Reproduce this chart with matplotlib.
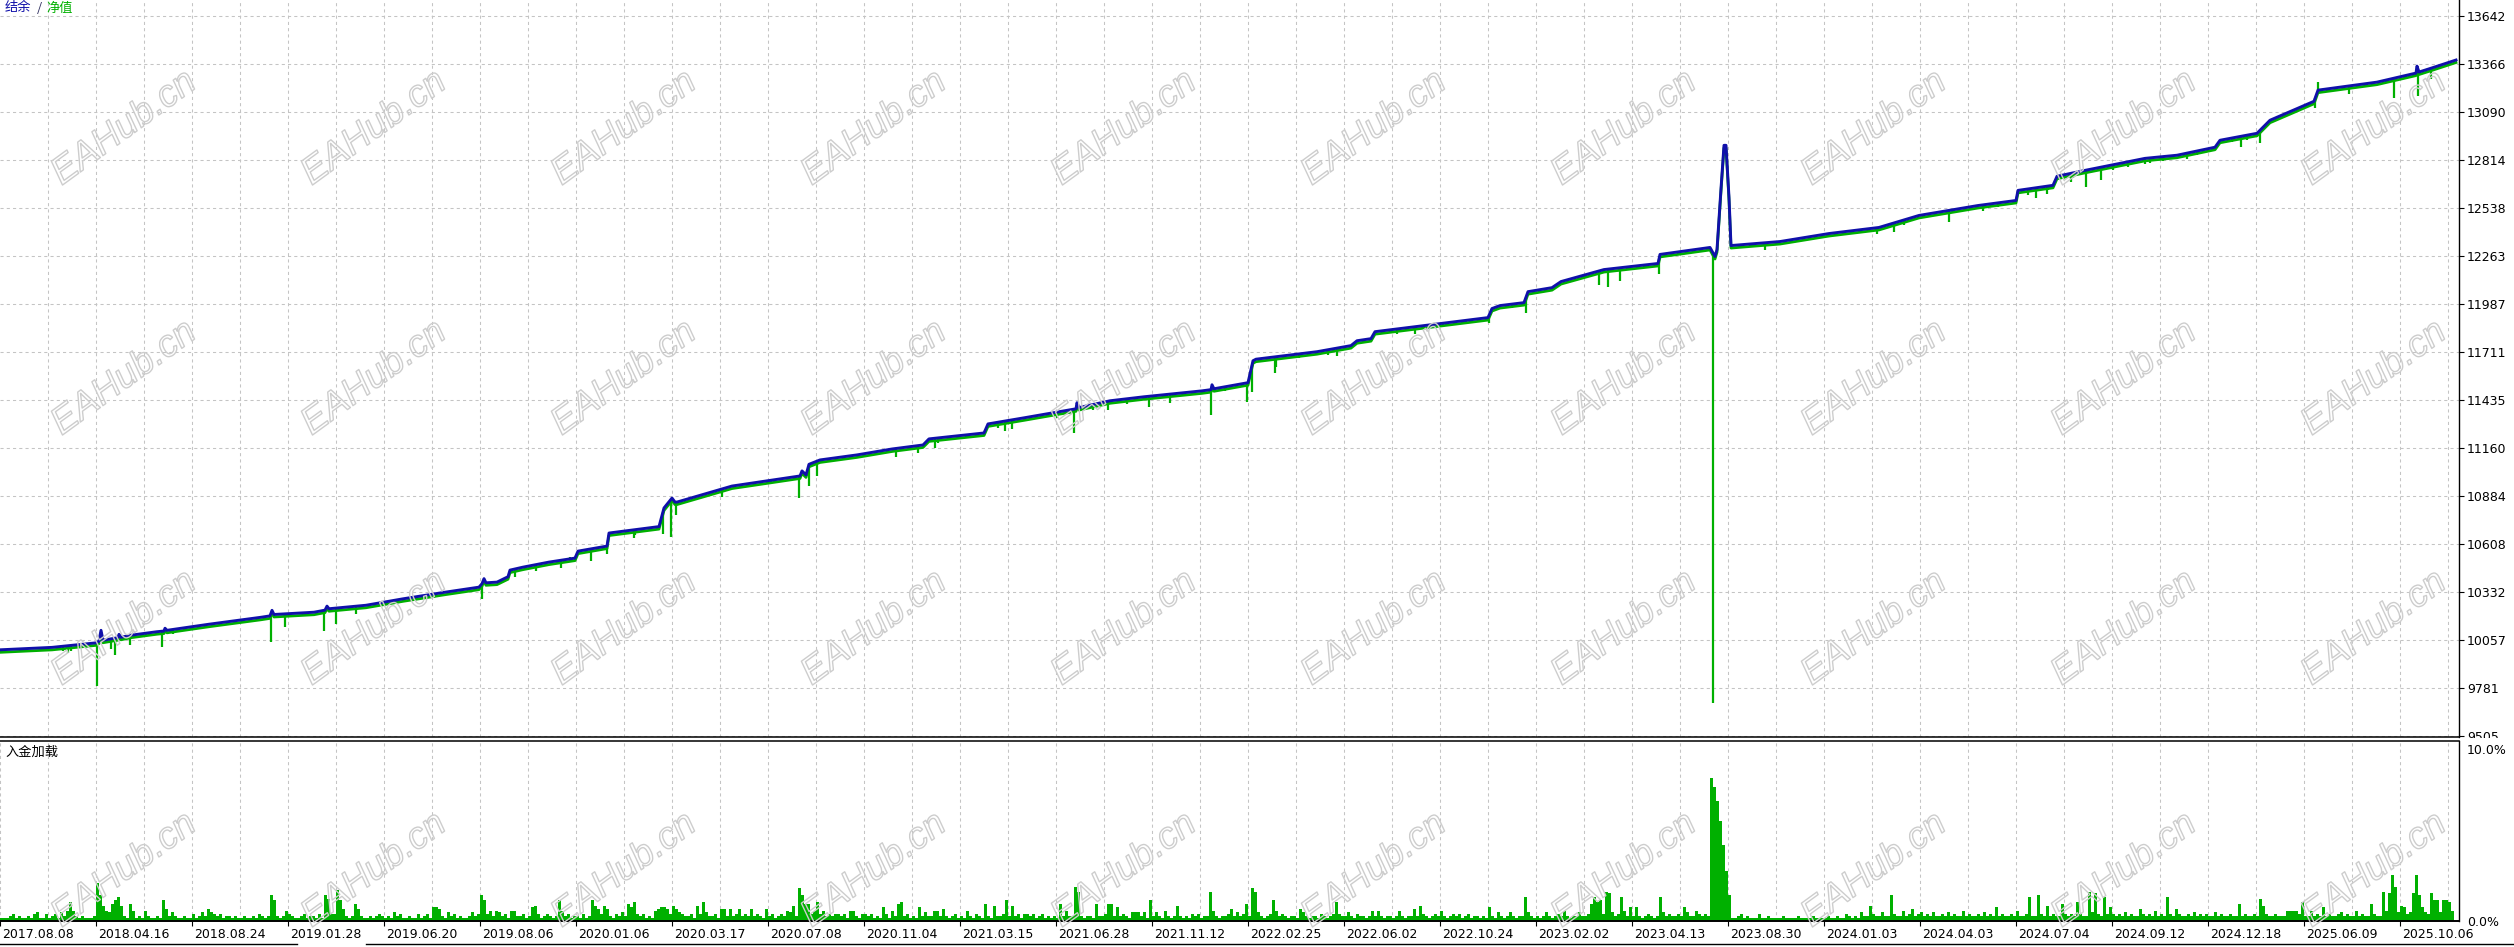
import numpy as np
import matplotlib
matplotlib.use('Agg')
import matplotlib.pyplot as plt
from matplotlib import patheffects, transforms
from matplotlib.lines import Line2D
from matplotlib.patches import Rectangle

# balance curve (x = deal position along the axis, v = account balance)
bal_x = [0, 52, 96, 99, 101, 103, 118, 119, 121, 131, 157, 164, 165, 167, 209, 261, 270, 272, 274,
         314, 325, 327, 329, 366, 403, 445, 479, 482, 484, 486, 497, 508, 510, 523, 549, 575, 578,
         607, 609, 659, 664, 672, 675, 677, 732, 800, 802, 806, 809, 820, 857, 892, 923, 929, 984,
         988, 1024, 1053, 1076, 1077, 1079, 1110, 1144, 1202, 1211, 1212, 1214, 1248, 1253, 1256,
         1317, 1351, 1357, 1371, 1375, 1431, 1488, 1492, 1500, 1524, 1528, 1552, 1561, 1604, 1658,
         1660, 1710, 1715, 1717, 1721, 1724, 1726, 1729, 1731, 1780, 1829, 1879, 1919, 1978, 2016,
         2018, 2053, 2057, 2085, 2145, 2177, 2215, 2220, 2257, 2270, 2314, 2318, 2377, 2416, 2417,
         2419, 2431, 2456]
bal_v = [10000, 10014, 10040, 10050, 10112, 10055, 10070, 10089, 10072, 10084, 10104, 10108, 10124,
         10112, 10147, 10187, 10195, 10227, 10203, 10216, 10228, 10251, 10236, 10256, 10293, 10331,
         10360, 10380, 10409, 10385, 10389, 10420, 10458, 10475, 10504, 10527, 10567, 10596, 10671,
         10708, 10815, 10872, 10849, 10849, 10941, 10999, 11028, 11005, 11066, 11091, 11120, 11154,
         11177, 11212, 11246, 11298, 11333, 11362, 11385, 11420, 11392, 11431, 11454, 11488, 11495,
         11523, 11500, 11535, 11661, 11670, 11713, 11748, 11776, 11788, 11828, 11868, 11909, 11961,
         11978, 11995, 12058, 12081, 12116, 12185, 12220, 12272, 12312, 12260, 12300, 12650, 12899,
         12899, 12600, 12323, 12346, 12392, 12427, 12496, 12553, 12582, 12640, 12669, 12721, 12755,
         12824, 12842, 12888, 12928, 12968, 13043, 13152, 13216, 13262, 13314, 13354, 13320, 13342,
         13389]

# equity excursions away from the balance line (large ones)
eq_x = [68, 71, 97, 111, 115, 130, 162, 173, 271, 285, 324, 336, 356, 434, 482, 515, 536, 561, 591,
        607, 634, 663, 671, 676, 722, 799, 809, 817, 896, 918, 935, 1005, 1012, 1057, 1074, 1108,
        1149, 1170, 1211, 1247, 1252, 1275, 1337, 1415, 1489, 1526, 1599, 1608, 1620, 1659, 1713,
        1765, 1877, 1894, 1949, 1983, 2036, 2047, 2071, 2086, 2101, 2145, 2150, 2187, 2241, 2260,
        2315, 2318, 2349, 2394, 2418, 2431]
eq_v = [9982, 9995, 9792, 10005, 9970, 10028, 10016, 10090, 10045, 10130, 10108, 10146, 10206,
        10300, 10294, 10420, 10453, 10470, 10510, 10551, 10643, 10666, 10651, 10775, 10880, 10872,
        10940, 11000, 11110, 11130, 11160, 11255, 11270, 11330, 11245, 11380, 11395, 11420, 11348,
        11422, 11480, 11590, 11688, 11815, 11876, 11935, 12095, 12083, 12120, 12158, 9692, 12300,
        12390, 12400, 12460, 12520, 12594, 12620, 12686, 12657, 12697, 12790, 12800, 12820, 12890,
        12911, 13112, 13262, 13193, 13170, 13181, 13279]

# small equity dips that make the green fringe under the balance line
fringe_x = [24, 42, 63, 84, 120, 146, 191, 214, 243, 301, 316, 345, 397, 426, 450, 494, 518, 539,
            570, 596, 635, 709, 748, 771, 852, 875, 909, 938, 966, 998, 1041, 1093, 1127, 1167,
            1190, 1225, 1276, 1299, 1328, 1397, 1443, 1466, 1512, 1540, 1569, 1584, 1627, 1644,
            1678, 1750, 1794, 1824, 1849, 1904, 1924, 1959, 1998, 2028, 2048, 2073, 2113, 2128,
            2163, 2197, 2232, 2247, 2277, 2292, 2327, 2367, 2386, 2406, 2441]
fringe_v = [9988, 9995, 9992, 10011, 10068, 10080, 10117, 10146, 10174, 10204, 10213, 10242,
            10281, 10319, 10338, 10387, 10465, 10493, 10535, 10579, 10657, 10901, 10947, 10964,
            11108, 11131, 11148, 11188, 11223, 11275, 11338, 11378, 11413, 11453, 11476, 11488,
            11626, 11677, 11694, 11815, 11855, 11878, 11964, 12050, 12125, 12135, 12183, 12200,
            12269, 12315, 12355, 12384, 12401, 12441, 12481, 12516, 12545, 12614, 12642, 12711,
            12757, 12774, 12809, 12843, 12918, 12929, 13062, 13102, 13205, 13234, 13257, 13280,
            13343]

# deposit load, one string per 96-px label slot, each char = load in 0.1 % (base 36)
load_rows = [
    "22234232232452242342536b63232223",
    "mf965ace932a6232632232c735322322",
    "42353754342332322322324323fc3236",
    "432234233242fd44ic7323a732232343",
    "23253422322423428873253423223534",
    "fc463653426633423894234323c63423",
    "32423c97497324353a8b434232678874",
    "9754334294b533427737347343734327",
    "3423436593jfaa46b463434434266324",
    "43423284263ab3423283533663732342",
    "32632432a329334c3934244342342323",
    "2a3633kh32332a334aa383432555352c",
    "3532632393232434233h63233473534a",
    "3jh53234c63432332753233243234b43",
    "35324332363632332363233739432343",
    "6323434234233232832532353233e532",
    "323532343632335334aebc4hg534e638",
    "383234323e5343343853364343333333",
    "32234232224223222232222322223222",
    "2322322432325339433533f433634734",
    "53435334353433634334353438343343",
    "6334e33f4393433a4343b433h5g43e48",
    "434353433743436343e4374334353434",
    "3353433433a343343d9433433366664b",
    "3363438343345343363433a433h6grk5",
    "9845grf854gcc5ccb6",
]
spike_x = [1711, 1714, 1717, 1720, 1723, 1726, 1729]
spike_v = [8.3, 7.8, 7.0, 5.8, 4.4, 2.9, 1.5]

ytick_vals = [9505, 9781, 10057, 10332, 10608, 10884, 11160, 11435, 11711, 11987, 12263, 12538,
              12814, 13090, 13366, 13642]
date_labels = ["2017.08.08", "2018.04.16", "2018.08.24", "2019.01.28", "2019.06.20", "2019.08.06",
               "2020.01.06", "2020.03.17", "2020.07.08", "2020.11.04", "2021.03.15", "2021.06.28",
               "2021.11.12", "2022.02.25", "2022.06.02", "2022.10.24", "2023.02.02", "2023.04.13",
               "2023.08.30", "2024.01.03", "2024.04.03", "2024.07.04", "2024.09.12", "2024.12.18",
               "2025.06.09", "2025.10.06"]

W, H, DPI = 2514, 947, 100
BLUE = '#1010aa'
GREEN = '#00b000'
GRID = '#c4c4c4'
cjk = ['Noto Sans CJK SC', 'DejaVu Sans']

load_x, load_v = [], []
for k, row in enumerate(load_rows):
    for i, c in enumerate(row):
        load_x.append(96 * k + 3 * i + 1.5)
        load_v.append(int(c, 36) / 10)

fig = plt.figure(figsize=(W / DPI, H / DPI), dpi=DPI)
plot_r = 2459 / W
ax = fig.add_axes([0, 1 - 737 / H, plot_r, 737 / H])
axb = fig.add_axes([0, 1 - 921 / H, plot_r, (921 - 740.5) / H])
ax.set_zorder(0)
axb.set_zorder(2)

grid_x = np.arange(48, 2459, 48)
label_x = np.arange(len(date_labels)) * 96

# ---- main panel
down = ax.transData + transforms.ScaledTranslation(0, -2.5 / DPI, fig.dpi_scale_trans)
ax.plot(bal_x, bal_v, color=GREEN, lw=2.0, transform=down, zorder=2)
ax.vlines(eq_x, eq_v, np.interp(eq_x, bal_x, bal_v), color=GREEN, lw=1.6, zorder=2)
ax.vlines(fringe_x, fringe_v, np.interp(fringe_x, bal_x, bal_v), color=GREEN, lw=1.6, zorder=2)
ax.plot(bal_x, bal_v, color=BLUE, lw=2.1, zorder=3)

ax.set_xlim(0, 2459)
ax.set_ylim(9499, 13734)
ax.set_xticks(grid_x)
ax.tick_params(axis='x', length=0, labelbottom=False)
ax.yaxis.tick_right()
ax.set_yticks(ytick_vals)
ax.set_yticklabels([str(v) for v in ytick_vals])
ax.tick_params(axis='y', direction='out', length=3.6, width=0.8, pad=2.2, labelsize=9,
               colors='black')
ax.grid(True, color=GRID, lw=0.75, ls=(0, (3, 3)))
ax.set_axisbelow(True)
for s in ['left', 'top']:
    ax.spines[s].set_visible(False)
ax.spines['right'].set_linewidth(1.0)
ax.spines['bottom'].set_linewidth(1.1)

# ---- deposit load panel
axb.bar(load_x, load_v, width=3, color=GREEN, linewidth=0, antialiased=False, zorder=2)
axb.bar(spike_x, spike_v, width=3, color=GREEN, linewidth=0, antialiased=False, zorder=2)
axb.set_xlim(0, 2459)
axb.set_ylim(0, 10.5)
axb.set_xticks(grid_x, minor=True)
axb.set_xticks(label_x)
axb.set_xticklabels(date_labels)
axb.tick_params(axis='x', which='major', direction='out', length=3.6, width=0.8, pad=1.5,
                labelsize=9)
axb.tick_params(axis='x', which='minor', length=0)
axb.grid(True, axis='x', which='both', color=GRID, lw=0.75, ls=(0, (3, 3)))
axb.set_axisbelow(True)
axb.yaxis.tick_right()
axb.set_yticks([0, 10])
axb.set_yticklabels(['0.0%', '10.0%'])
axb.tick_params(axis='y', length=0, pad=5.8, labelsize=9)
axb.spines['left'].set_visible(False)
axb.spines['top'].set_linewidth(1.1)
axb.spines['bottom'].set_linewidth(1.4)
axb.spines['right'].set_linewidth(1.0)
shift = transforms.ScaledTranslation(2 / DPI, 0, fig.dpi_scale_trans)
for lab in axb.get_xticklabels():
    lab.set_horizontalalignment('left')
    lab.set_transform(lab.get_transform() + shift)

# hide lower part of the clipped 9505 label
fig.patches.append(Rectangle((2460 / W, 1 - 744 / H), (W - 2460) / W, 6.5 / H,
                             transform=fig.transFigure, fc='white', ec='none', zorder=1))

# panel titles
fig.text(5 / W, 1 - 8 / H, '结余', color=BLUE, fontsize=9.5, va='center', family=cjk)
fig.text(37 / W, 1 - 8 / H, '/', color='#303060', fontsize=9.5, va='center', family=cjk)
fig.text(46 / W, 1 - 8 / H, '净值', color=GREEN, fontsize=9.5, va='center', family=cjk)
fig.text(5 / W, 1 - 752 / H, '入金加载', color='black', fontsize=9.5, va='center', family=cjk)

# status bar frame under the dates
for x0, x1 in [(0, 297), (366, W)]:
    fig.add_artist(Line2D([x0 / W, x1 / W], [1 - 944 / H] * 2, color='black', lw=1.0,
                          transform=fig.transFigure))

# watermark
for cx in range(10):
    for cy in [128, 378, 628, 870]:
        fig.text((124 + 250 * cx) / W, 1 - cy / H, 'EAHub.cn', rotation=36, ha='center',
                 va='center', fontsize=27, style='italic', family='Liberation Sans',
                 color=(1, 1, 1, 0), zorder=10,
                 path_effects=[patheffects.Stroke(linewidth=1.0, foreground='#cdcdcd')])

fig.savefig('out.png', dpi=DPI)
